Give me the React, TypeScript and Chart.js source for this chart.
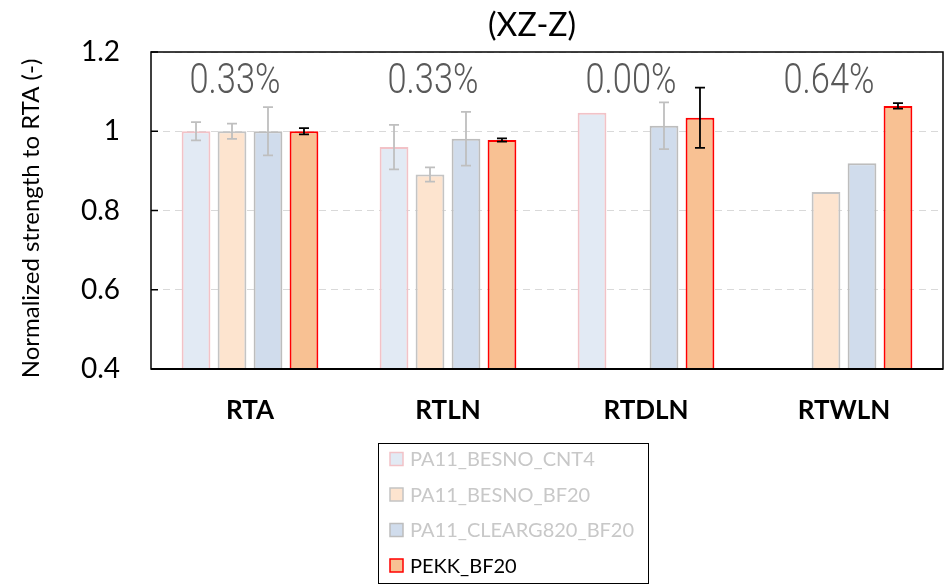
import React, { useEffect, useRef } from "react";
import { Chart, registerables } from "chart.js";

Chart.register(...registerables);

const categories = ["RTA", "RTLN", "RTDLN", "RTWLN"];
const seriesNames = ["PA11_BESNO_CNT4", "PA11_BESNO_BF20", "PA11_CLEARG820_BF20", "PEKK_BF20"];

const cnt4Values = [1.0, 0.96, 1.047, null];
const cnt4Errors = [0.023, 0.056, 0, 0];
const bf20Values = [1.0, 0.891, null, 0.847];
const bf20Errors = [0.019, 0.018, 0, 0];
const clearValues = [1.0, 0.981, 1.014, 0.919];
const clearErrors = [0.061, 0.068, 0.059, 0];
const pekkValues = [1.0, 0.978, 1.034, 1.064];
const pekkErrors = [0.008, 0.004, 0.076, 0.007];

const groupLabels = ["0.33%", "0.33%", "0.00%", "0.64%"];
const yTickValues = [0.4, 0.6, 0.8, 1.0, 1.2];
const yTickLabels = ["0.4", "0.6", "0.8", "1", "1.2"];
const chartTitle = "(XZ-Z)";
const yAxisTitle = "Normalized strength to RTA (-)";

const fills = ["#E2EAF4", "#FDE4CF", "#D0DCEC", "#F8C193"];
const borders = ["#F2C2C7", "#C4C4C4", "#BDBDBD", "#FF0000"];
const errorColors = ["#BFBFBF", "#BFBFBF", "#BFBFBF", "#000000"];
const legendTextColors = ["#C8C8C8", "#C8C8C8", "#C8C8C8", "#000000"];

const errorBarsPlugin = {
  id: "errorBars",
  afterDatasetsDraw(chart: any) {
    const ctx = chart.ctx;
    const y = chart.scales.y;
    chart.data.datasets.forEach((ds: any, i: number) => {
      const meta = chart.getDatasetMeta(i);
      ds.data.forEach((v: number | null, j: number) => {
        const e = ds.errors[j];
        if (v == null || !e) return;
        const x = meta.data[j].x;
        const yt = y.getPixelForValue(v + e);
        const yb = y.getPixelForValue(v - e);
        ctx.save();
        ctx.strokeStyle = ds.errorColor;
        ctx.lineWidth = 1.8;
        ctx.beginPath();
        ctx.moveTo(x, yt);
        ctx.lineTo(x, yb);
        ctx.moveTo(x - 5, yt);
        ctx.lineTo(x + 5, yt);
        ctx.moveTo(x - 5, yb);
        ctx.lineTo(x + 5, yb);
        ctx.stroke();
        ctx.restore();
      });
    });
  },
};

const decorPlugin = {
  id: "decor",
  afterDraw(chart: any) {
    const ctx = chart.ctx;
    const { left, right, top, bottom } = chart.chartArea;
    const xs = chart.scales.x;
    const ys = chart.scales.y;
    ctx.save();
    // group annotations
    ctx.fillStyle = "#595959";
    ctx.font = "300 42px Roboto";
    ctx.textAlign = "center";
    ctx.textBaseline = "alphabetic";
    groupLabels.forEach((t, j) => {
      const cx = xs.getPixelForValue(j) - 15;
      ctx.save();
      ctx.translate(cx, top + 41);
      ctx.scale(0.82, 1);
      ctx.fillText(t, 0, 0);
      ctx.restore();
    });
    // title
    ctx.fillStyle = "#000";
    ctx.font = "32px Lato";
    ctx.textBaseline = "middle";
    ctx.fillText(chartTitle, (left + right) / 2 - 15, 26);
    // y-axis title
    ctx.save();
    ctx.translate(31, (top + bottom) / 2 + 8);
    ctx.rotate(-Math.PI / 2);
    ctx.font = "24px Lato";
    ctx.fillText(yAxisTitle, 0, 0);
    ctx.restore();
    // plot border
    ctx.strokeStyle = "#000";
    ctx.lineWidth = 1.5;
    ctx.strokeRect(left, top, right - left, bottom - top);
    ctx.lineWidth = 2.2;
    ctx.beginPath();
    ctx.moveTo(left, bottom);
    ctx.lineTo(right, bottom);
    ctx.stroke();
    // inner ticks
    ctx.lineWidth = 1.5;
    ctx.beginPath();
    yTickValues.forEach((v) => {
      const py = ys.getPixelForValue(v);
      ctx.moveTo(left, py);
      ctx.lineTo(left + 7, py);
    });
    ctx.stroke();
    // legend
    const lx = 378, ly = 443, lw = 270, lh = 140;
    ctx.lineWidth = 1;
    ctx.strokeRect(lx + 0.5, ly + 0.5, lw, lh);
    ctx.textAlign = "left";
    ctx.textBaseline = "middle";
    ctx.font = "20px Lato";
    chart.data.datasets.forEach((ds: any, i: number) => {
      const cy = 459 + i * 35.5;
      ctx.fillStyle = ds.backgroundColor;
      ctx.fillRect(390, cy - 6.5, 13, 13);
      ctx.strokeStyle = ds.borderColor;
      ctx.lineWidth = 1.5;
      ctx.strokeRect(390, cy - 6.5, 13, 13);
      ctx.fillStyle = legendTextColors[i];
      ctx.fillText(ds.label, 410, cy + 1);
    });
    ctx.restore();
  },
};

export default function App() {
  const ref = useRef<HTMLCanvasElement | null>(null);
  useEffect(() => {
    const valueSets = [cnt4Values, bf20Values, clearValues, pekkValues];
    const errorSets = [cnt4Errors, bf20Errors, clearErrors, pekkErrors];
    const chart = new Chart(ref.current as HTMLCanvasElement, {
      type: "bar",
      data: {
        labels: categories,
        datasets: seriesNames.map((name, i) => ({
          label: name,
          data: valueSets[i],
          errors: errorSets[i],
          errorColor: errorColors[i],
          backgroundColor: fills[i],
          borderColor: borders[i],
          borderWidth: 2,
          borderSkipped: false,
          categoryPercentage: 0.727,
          barPercentage: 0.8,
        })) as any,
      },
      options: {
        animation: false,
        responsive: false,
        devicePixelRatio: 1,
        layout: { padding: { top: 52, right: 9, bottom: 155, left: 0 } },
        plugins: { legend: { display: false }, title: { display: false }, tooltip: { enabled: false } },
        scales: {
          x: {
            grid: { display: false, drawTicks: false },
            border: { display: false },
            ticks: { padding: 26, color: "#000", font: { family: "Lato", size: 26, weight: "bold" } },
            afterFit: (s: any) => { s.height = 60; },
          },
          y: {
            min: 0.4,
            max: 1.2,
            afterBuildTicks: (s: any) => { s.ticks = yTickValues.map((v) => ({ value: v })); },
            ticks: {
              padding: 31,
              color: "#000",
              font: { family: "Lato", size: 28 },
              callback: (v: any) => yTickLabels[yTickValues.findIndex((t) => Math.abs(t - v) < 1e-6)],
            },
            grid: { color: "#D9D9D9", lineWidth: 1, drawTicks: false },
            border: { display: false, dash: [7, 5] },
            title: { display: false },
            afterFit: (s: any) => { s.width = 151; },
          },
        },
      },
      plugins: [errorBarsPlugin, decorPlugin],
    } as any);
    return () => chart.destroy();
  }, []);
  return (
    <div style={{ position: "absolute", left: 0, top: 0, width: 952, height: 584 }}>
      <canvas ref={ref} width={952} height={584} />
    </div>
  );
}
